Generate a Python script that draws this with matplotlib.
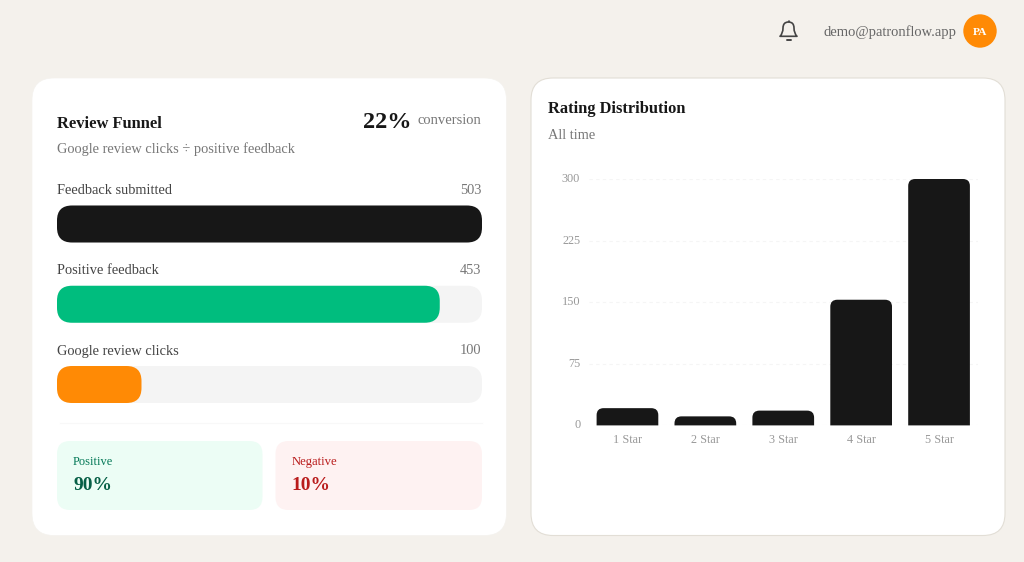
import matplotlib
matplotlib.use("Agg")
import matplotlib.pyplot as plt
from matplotlib.path import Path
from matplotlib.patches import PathPatch, FancyBboxPatch, Circle

plt.rcParams['font.family'] = ['Liberation Serif', 'DejaVu Serif']

funnel_labels = ["Feedback submitted", "Positive feedback", "Google review clicks"]
funnel_values = [503, 453, 100]
funnel_colors = ["#171717", "#00BD7E", "#FF8A05"]
funnel_total = 503

ratings = ["1 Star", "2 Star", "3 Star", "4 Star", "5 Star"]
rating_counts = [21, 11, 18, 153, 300]
rating_ticks = [0, 75, 150, 225, 300]

share_labels = ["Positive", "Negative"]
share_values = ["90%", "10%"]
conversion = "22%"

W, H = 1024, 562
PX = 72 / 100  # pt per px


def rounded(x0, x1, y0, y1, rx, ry, bottom=True):
    """Rounded rectangle in data coordinates; y1 is the rounded 'top' side."""
    rx = min(rx, abs(x1 - x0) / 2)
    verts = [(x0, y0 + (ry if bottom else 0)), (x0, y1 - ry), (x0, y1), (x0 + rx, y1),
             (x1 - rx, y1), (x1, y1), (x1, y1 - ry)]
    codes = [Path.MOVETO, Path.LINETO, Path.CURVE3, Path.CURVE3,
             Path.LINETO, Path.CURVE3, Path.CURVE3]
    if bottom:
        verts += [(x1, y0 + ry), (x1, y0), (x1 - rx, y0), (x0 + rx, y0), (x0, y0), (x0, y0 + ry)]
        codes += [Path.LINETO, Path.CURVE3, Path.CURVE3, Path.LINETO, Path.CURVE3, Path.CURVE3]
    else:
        verts += [(x1, y0), (x0, y0)]
        codes += [Path.LINETO, Path.LINETO]
    verts.append(verts[0])
    codes.append(Path.CLOSEPOLY)
    return Path(verts, codes)


def axes_px(left, top, right, bottom, **kw):
    return fig.add_axes([left / W, 1 - bottom / H, (right - left) / W, (bottom - top) / H], **kw)


fig = plt.figure(figsize=(W / 100, H / 100), dpi=100, facecolor="#F4F1EC")

# page overlay in pixel coordinates
bg = axes_px(0, 0, W, H)
bg.set_xlim(0, W)
bg.set_ylim(H, 0)
bg.axis("off")


def card(x0, y0, x1, y1, r, fc, ec="none", lw=0):
    bg.add_patch(FancyBboxPatch((x0 + r, y0 + r), x1 - x0 - 2 * r, y1 - y0 - 2 * r,
                                boxstyle=f"round,pad={r},rounding_size={r}",
                                fc=fc, ec=ec, lw=lw))


def txt(x, y, s, size, color, ha="left", weight="normal", ax=None):
    (ax or bg).text(x, y, s, fontsize=size * PX, color=color, ha=ha, va="baseline",
                    fontweight=weight, clip_on=False)


card(32, 78, 506.5, 535.5, 22, "#FFFFFF", "#F4F2EE", 0.5)
card(531, 78, 1005, 535.5, 22, "#FFFFFF", "#E2DED6", 0.8)

# header: bell, e-mail, avatar
bell = Path([(780, 36.3), (783, 33.5), (783, 28), (783, 22), (788.5, 22), (794, 22), (794, 28),
             (794, 33.5), (797, 36.3), (780, 36.3)],
            [Path.MOVETO, Path.CURVE3, Path.CURVE3, Path.CURVE3, Path.CURVE3, Path.CURVE3, Path.CURVE3,
             Path.CURVE3, Path.CURVE3, Path.CLOSEPOLY])
bg.add_patch(PathPatch(bell, fc="none", ec="#444444", lw=1.2, joinstyle="round"))
bg.plot([788.5, 788.5], [20.8, 22], color="#444444", lw=1.2, solid_capstyle="round")
bg.plot([786.5, 790.5], [39.5, 39.5], color="#444444", lw=1.4, solid_capstyle="round")
txt(823.5, 36, "demo@patronflow.app", 14.5, "#666666")
bg.add_patch(Circle((980, 31), 16.7, fc="#FF8A05", ec="none"))
txt(980, 35, "PA", 11.5, "#FFFFFF", ha="center", weight="bold")

# funnel card text
txt(57, 127.5, "Review Funnel", 16.5, "#171717", weight="bold")
txt(363, 127.5, conversion, 24.3, "#171717", weight="bold")
txt(481.5, 124, "conversion", 14.6, "#777777", ha="right")
txt(57, 153, "Google review clicks \u00f7 positive feedback", 14.4, "#777777")

# funnel bars
PITCH = 80.25
BAR_H = 37
fx = axes_px(57, 205.5, 482, 403)
fx.patch.set_alpha(0)
half = BAR_H / PITCH / 2
fx.set_xlim(0, funnel_total)
fx.set_ylim(2 + half, -half)
fx.axis("off")
rx_f = 15 * funnel_total / 425
ry_f = 15 / PITCH
for i, (lab, val, col) in enumerate(zip(funnel_labels, funnel_values, funnel_colors)):
    fx.add_patch(PathPatch(rounded(0, funnel_total, i + half, i - half, rx_f, -ry_f),
                           fc="#F4F4F4", ec="none"))
    fx.add_patch(PathPatch(rounded(0, val, i + half, i - half, rx_f, -ry_f), fc=col, ec="none"))
    fx.text(0, i - 30 / PITCH, lab, fontsize=14.4 * PX, color="#444444", va="baseline", clip_on=False)
    fx.text(funnel_total - 0.5, i - 30 / PITCH, str(val), fontsize=14.4 * PX, color="#777777",
            ha="right", va="baseline", clip_on=False)

# divider and share boxes
bg.plot([60, 482], [423, 423], color="#F8F8F8", lw=0.8)
card(57, 441, 262.5, 510, 13, "#ECFDF5")
card(275.5, 441, 482, 510, 13, "#FEF2F2")
txt(73, 465.3, share_labels[0], 12.4, "#047857")
txt(73, 490, share_values[0], 19.5, "#065F46", weight="bold")
txt(291.5, 465.3, share_labels[1], 12.6, "#B91C1C")
txt(291.5, 490, share_values[1], 19.5, "#B91C1C", weight="bold")

# rating card
txt(548, 112.7, "Rating Distribution", 16.4, "#171717", weight="bold")
txt(548, 138.7, "All time", 14.4, "#777777")

rx = axes_px(588.5, 179, 978, 425.4)
rx.patch.set_alpha(0)
rx.set_xlim(-0.5, 4.5)
rx.set_ylim(0, 300)
for s in rx.spines.values():
    s.set_visible(False)
rx.set_yticks(rating_ticks)
rx.set_xticks(range(len(ratings)), ratings)
rx.tick_params(axis="both", length=0, labelsize=12.2 * PX, labelcolor="#999999")
rx.tick_params(axis="y", pad=6)
rx.tick_params(axis="x", pad=6.2)
for lab in rx.get_yticklabels():
    lab.set_va("center")
rx.grid(axis="y", color="#F5F5F5", lw=0.8, linestyle=(0, (3, 3)))
rx.set_axisbelow(True)
bw = 61.7 / 77.9
r_x = 7 / 77.9
r_y = 7 * 300 / 246.4
for i, v in enumerate(rating_counts):
    rx.add_patch(PathPatch(rounded(i - bw / 2, i + bw / 2, 0, v, r_x, r_y, bottom=False),
                           fc="#171717", ec="none", zorder=3, clip_on=False))

fig.savefig("out.png", dpi=100, facecolor=fig.get_facecolor())
